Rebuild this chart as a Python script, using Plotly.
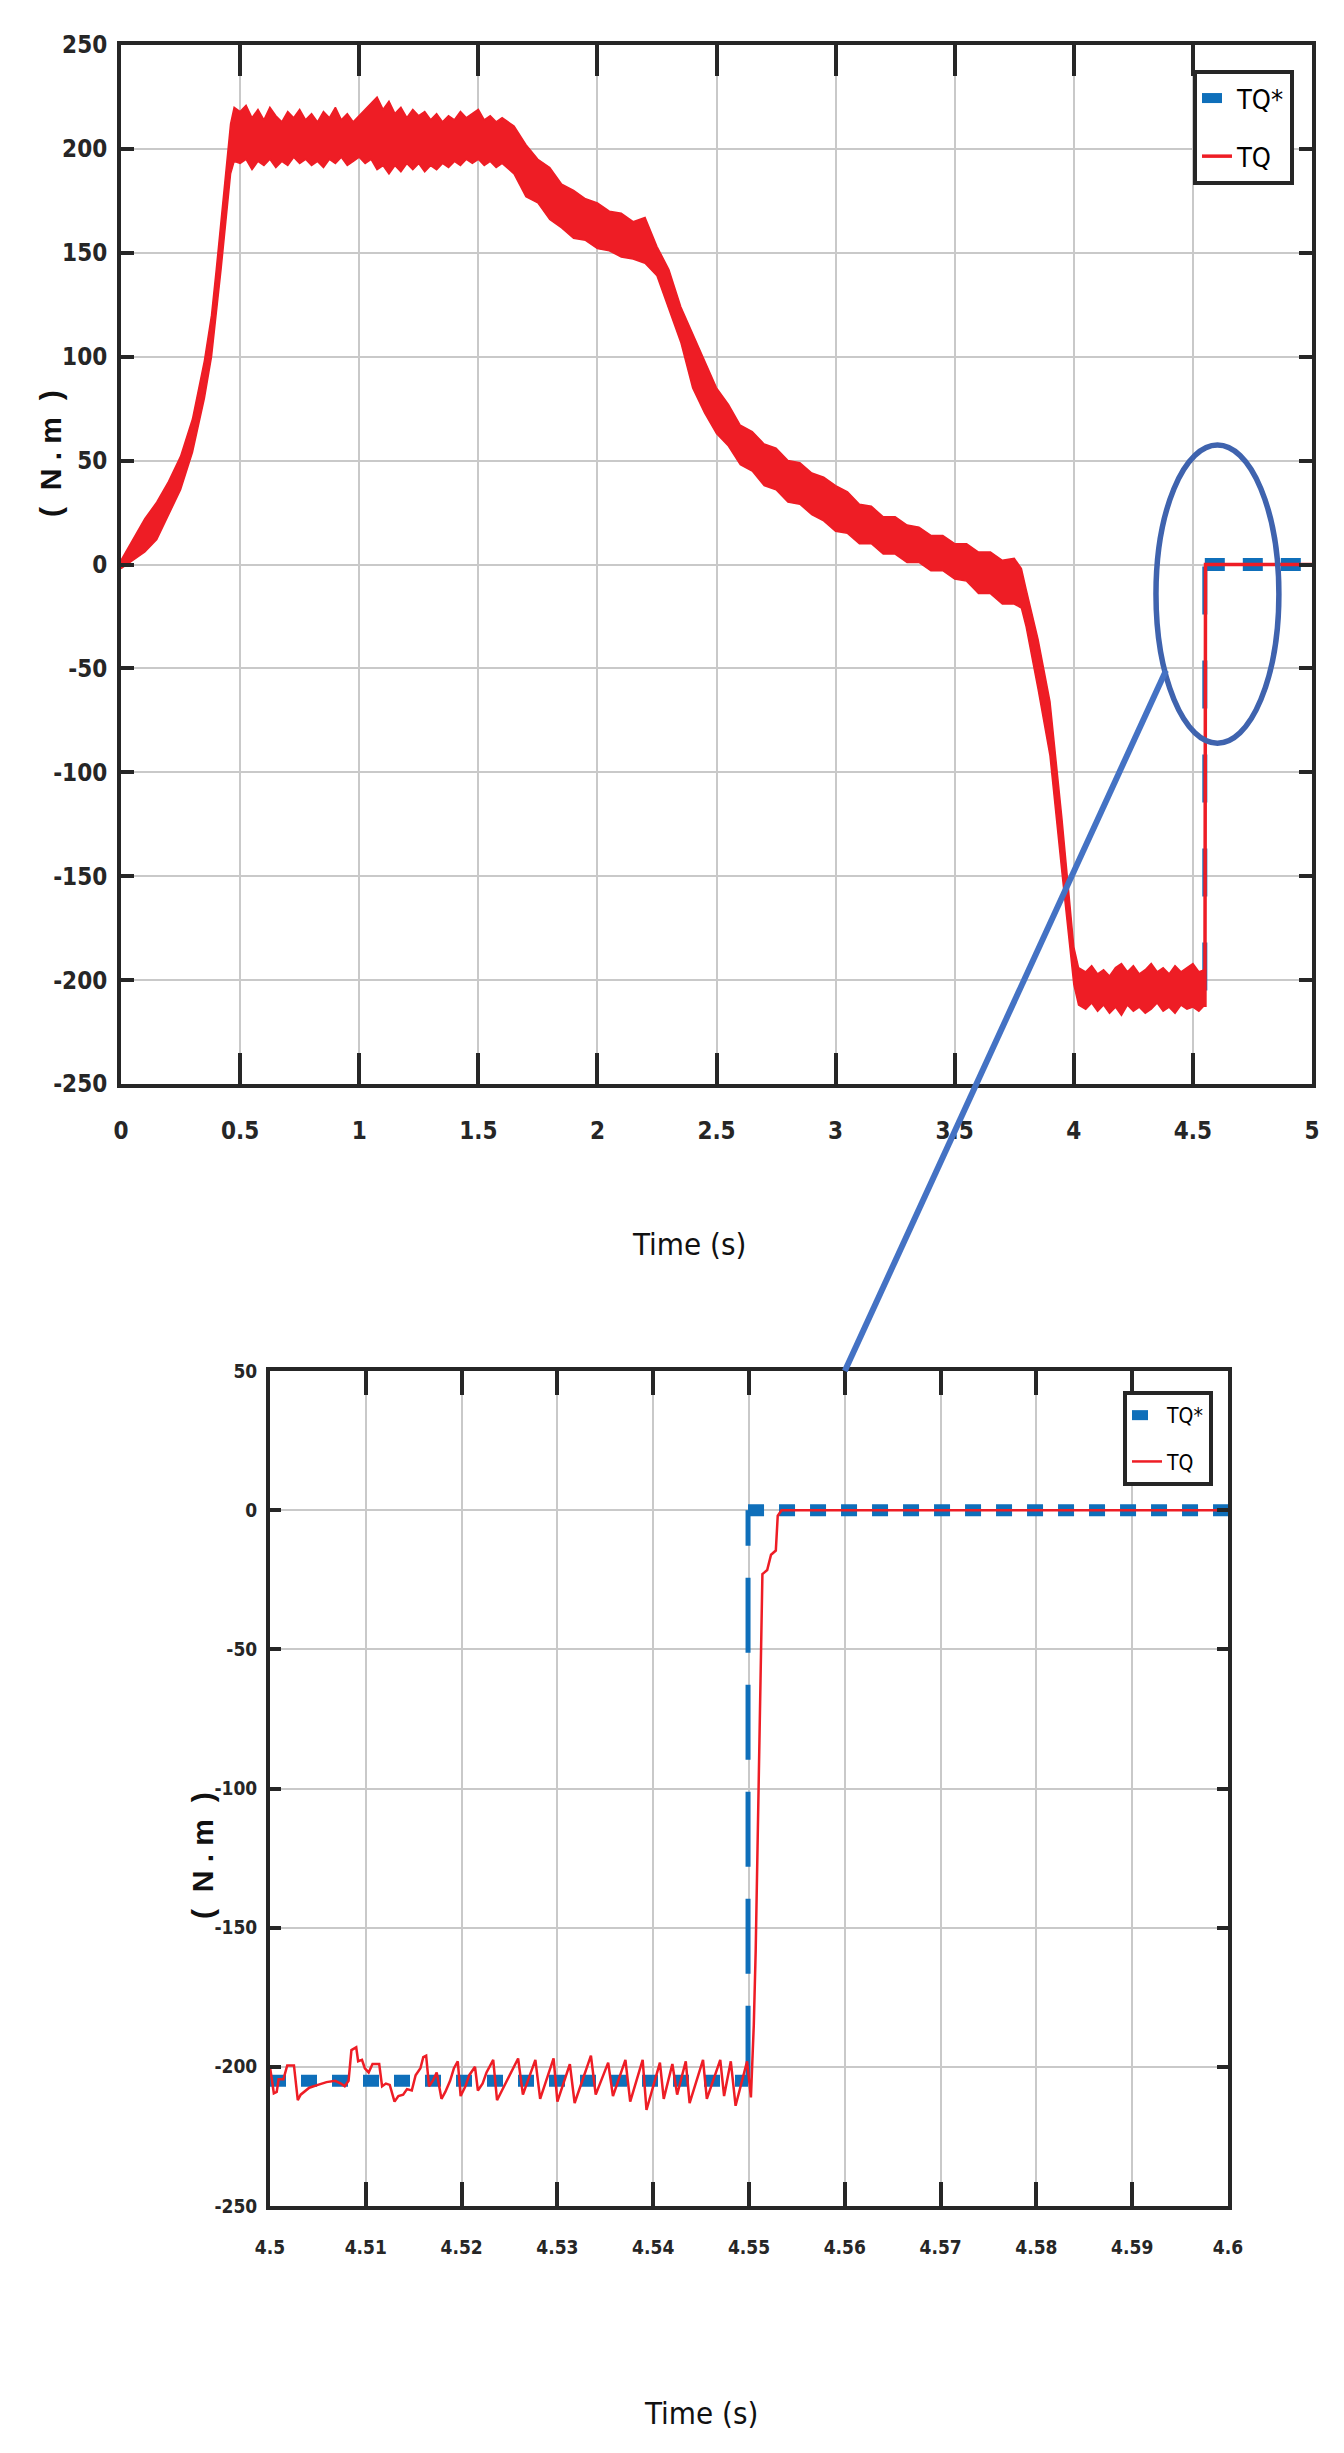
import plotly.graph_objects as go

W, H = 1344, 2453

# ---------------- data: full run (0 - 5 s) ----------------
t_band = [0.00, 0.05, 0.10, 0.15, 0.20, 0.25, 0.30, 0.35, 0.38, 0.40, 0.42, 0.44, 0.46, 0.475,
          0.500, 0.525, 0.550, 0.575, 0.600, 0.625, 0.650, 0.675, 0.700, 0.725, 0.750, 0.775,
          0.800, 0.825, 0.850, 0.875, 0.900, 0.925, 0.950, 0.975, 1.000, 1.025, 1.050, 1.075,
          1.100, 1.125, 1.150, 1.175, 1.200, 1.225, 1.250, 1.275, 1.300, 1.325, 1.350, 1.375,
          1.400, 1.425, 1.450, 1.475, 1.500, 1.525, 1.550, 1.575, 1.600,
          1.65, 1.70, 1.75, 1.80, 1.85, 1.90, 1.95, 2.00, 2.05, 2.10, 2.15, 2.20, 2.25, 2.30,
          2.35, 2.40, 2.45, 2.50, 2.55, 2.60, 2.65, 2.70, 2.75, 2.80, 2.85, 2.90, 2.95, 3.00,
          3.05, 3.10, 3.15, 3.20, 3.25, 3.30, 3.35, 3.40, 3.45, 3.50, 3.55, 3.60, 3.65, 3.70,
          3.75, 3.78, 3.80, 3.85, 3.90, 3.95, 4.00, 4.02,
          4.050, 4.075, 4.100, 4.125, 4.150, 4.175, 4.200, 4.225, 4.250, 4.275, 4.300, 4.325,
          4.350, 4.375, 4.400, 4.425, 4.450, 4.475, 4.500, 4.525, 4.550]
tq_upper = [2, 12, 22, 30, 40, 52, 70, 98, 120, 142, 165, 190, 212, 220,
            218, 221, 215, 219, 214, 220, 216, 213, 218, 215, 219, 214,
            217, 213, 218, 215, 220, 214, 217, 213, 216, 219, 222, 225,
            219, 223, 217, 220, 215, 219, 216, 218, 214, 217, 213, 216,
            214, 218, 215, 217, 219, 214, 216, 213, 215,
            211, 202, 195, 191, 183, 180, 176, 174, 170, 169, 165, 167, 153, 142,
            124, 111, 98, 85, 77, 67, 64, 58, 56, 50, 49, 44, 42, 38,
            35, 29, 28, 23, 23, 19, 18, 14, 14, 10, 10, 6, 6, 2,
            3, -2, -12, -36, -66, -122, -184, -194,
            -196, -193, -197, -195, -198, -194, -192, -196, -193, -197, -195, -192,
            -196, -194, -197, -193, -196, -194, -192, -196, -195]
tq_lower = [-2, 2, 6, 12, 24, 36, 54, 80, 100, 120, 142, 165, 188, 194,
            193, 195, 190, 194, 192, 195, 191, 194, 192, 196, 193, 195,
            192, 194, 191, 195, 193, 196, 192, 194, 196, 193, 195, 190,
            192, 188, 192, 189, 193, 190, 193, 189, 192, 190, 193, 191,
            194, 192, 195, 193, 195, 192, 194, 191, 193,
            188, 177, 174, 166, 162, 157, 156, 152, 151, 148, 147, 145, 139, 123,
            107, 85, 73, 63, 57, 48, 45, 38, 36, 30, 29, 24, 21, 16,
            15, 10, 10, 5, 5, 1, 1, -3, -3, -7, -8, -14, -14, -19,
            -19, -21, -30, -60, -92, -148, -202, -212,
            -214, -211, -215, -212, -216, -213, -217, -212, -215, -213, -216, -214,
            -211, -215, -213, -216, -212, -214, -213, -215, -212]

# measured torque after the step (main view)
t_meas_step = [4.5505, 4.5530, 5.0]
tq_meas_step = [-213, 0, 0]

# reference torque TQ* (main view)
t_ref = [0.00, 0.05, 0.10, 0.15, 0.20, 0.25, 0.30, 0.35, 0.38, 0.40, 0.42, 0.44, 0.46, 0.475,
         1.00, 1.60, 1.65, 1.70, 1.80, 1.90, 2.00, 2.10, 2.20, 2.25, 2.30, 2.35, 2.40, 2.45,
         2.50, 2.60, 2.70, 2.80, 2.90, 3.00, 3.10, 3.20, 3.30, 3.40, 3.50, 3.60, 3.70, 3.78,
         3.80, 3.85, 3.90, 3.95, 4.00, 4.02, 4.55]
tq_ref = [0, 7, 14, 21, 32, 44, 62, 89, 110, 131, 153, 177, 200, 207,
          205, 204, 199, 189, 178, 168, 163, 158, 156, 146, 132, 116, 98, 84,
          75, 58, 49, 41, 35, 27, 20, 15, 11, 6, 2, -3, -8, -11,
          -21, -48, -79, -135, -193, -204, -205]
t_ref_jump = [4.55, 4.55]
tq_ref_jump = [-205, 0]
t_ref_zero = [4.55, 5.0]
tq_ref_zero = [0, 0]

# ---------------- data: zoom 4.5 - 4.6 s ----------------
t_ref_z_low = [4.5, 4.5499]
tq_ref_z_low = [-205, -205]
t_ref_z_jump = [4.5499, 4.5499]
tq_ref_z_jump = [-205, 0]
t_ref_z_zero = [4.5499, 4.6]
tq_ref_z_zero = [0, 0]

t_meas_z = [4.5000, 4.5004, 4.5007, 4.5009, 4.5014, 4.5018, 4.5025, 4.5029, 4.5032, 4.5041,
            4.5050, 4.5059, 4.5068, 4.5074, 4.5078, 4.5082, 4.5085, 4.5090, 4.5092, 4.5096,
            4.5099, 4.5103, 4.5107, 4.5114, 4.5117, 4.5121, 4.5125, 4.5130, 4.5134, 4.5139,
            4.5143, 4.5148, 4.5152, 4.5157, 4.5160, 4.5163, 4.5166, 4.5170, 4.5174, 4.5179,
            4.5183, 4.5188, 4.5192, 4.5196, 4.5199, 4.5204, 4.5208, 4.5214, 4.5217, 4.5222,
            4.5226, 4.5233, 4.5237, 4.5259, 4.5264, 4.5277, 4.5282, 4.5296, 4.5300, 4.5313,
            4.5318, 4.5335, 4.5340, 4.5353, 4.5358, 4.5371, 4.5376, 4.5389, 4.5393, 4.5407,
            4.5411, 4.5420, 4.5425, 4.5434, 4.5438, 4.5452, 4.5456, 4.5470, 4.5474, 4.5481,
            4.5486, 4.5498, 4.5502, 4.5505, 4.5507, 4.5510, 4.5512, 4.5514, 4.5519, 4.5523,
            4.5528, 4.5530, 4.5534, 4.6000]
tq_meas_z = [-200.0, -209.5, -209.0, -204.5, -204.5, -199.5, -199.5, -212.0, -210.0, -207.5,
             -206.5, -205.5, -205.0, -206.0, -207.0, -205.0, -194.0, -193.0, -198.0, -197.5,
             -200.5, -202.0, -199.0, -199.0, -207.0, -206.0, -206.5, -212.5, -210.5, -210.0,
             -208.0, -208.5, -203.0, -200.5, -196.5, -196.0, -207.0, -205.0, -202.0, -211.5,
             -209.0, -205.0, -200.5, -198.0, -210.5, -207.0, -203.0, -200.0, -208.5, -206.0,
             -202.0, -197.5, -212.0, -197.0, -210.0, -197.5, -211.5, -197.0, -212.5, -199.0,
             -213.0, -196.0, -210.0, -198.5, -210.5, -197.5, -212.5, -197.5, -215.5, -198.5,
             -211.5, -199.0, -210.0, -198.0, -213.0, -197.5, -211.5, -197.5, -210.5, -198.0,
             -214.0, -198.0, -211.0, -185.0, -158.0, -103.0, -70.0, -23.0, -21.5, -16.0,
             -14.5, -2.0, 0.0, 0.0]

# ticks
x1_ticks = [0, 0.5, 1, 1.5, 2, 2.5, 3, 3.5, 4, 4.5, 5]
x1_labels = ["0", "0.5", "1", "1.5", "2", "2.5", "3", "3.5", "4", "4.5", "5"]
y1_ticks = [-250, -200, -150, -100, -50, 0, 50, 100, 150, 200, 250]
x2_ticks = [4.5, 4.51, 4.52, 4.53, 4.54, 4.55, 4.56, 4.57, 4.58, 4.59, 4.6]
x2_labels = ["4.5", "4.51", "4.52", "4.53", "4.54", "4.55", "4.56", "4.57", "4.58", "4.59", "4.6"]
y2_ticks = [-250, -200, -150, -100, -50, 0, 50]

# zoom marker (ellipse in main view) and link line endpoints
ell_t = [4.345, 4.861]
ell_v = [-86, 57.5]
link_main = (4.387, -51)
link_inset = (4.56, 50)

# ---------------- styling ----------------
BLUE = "#0F6FBA"
RED = "#EE1D25"
AX = "#262626"
GRID = "#C9C9C9"
NARROW = "Liberation Sans Narrow, DejaVu Sans Condensed, Arial Narrow, Liberation Sans, Arial, sans-serif"

X1_DOM = [113 / W, 1304 / W]
Y1_DOM = [1 - 1076 / H, 1 - 37 / H]
X2_DOM = [262 / W, 1220 / W]
Y2_DOM = [1 - 2198 / H, 1 - 1363 / H]
X1_RNG, Y1_RNG = [0, 5], [-250, 250]
X2_RNG, Y2_RNG = [4.5, 4.6], [-250, 50]

fig = go.Figure()

# main view
fig.add_trace(go.Scatter(x=t_ref, y=tq_ref, mode="lines", line=dict(color=BLUE, width=4),
                         legendgroup="ref", showlegend=False, hoverinfo="skip"))
fig.add_trace(go.Scatter(x=t_ref_jump, y=tq_ref_jump, mode="lines",
                         line=dict(color=BLUE, width=5, dash="48px,46px"),
                         legendgroup="ref", showlegend=False, hoverinfo="skip"))
fig.add_trace(go.Scatter(x=t_ref_zero, y=tq_ref_zero, mode="lines", name="TQ*",
                         line=dict(color=BLUE, width=13, dash="20px,18px"),
                         legendgroup="ref", legend="legend"))
fig.add_trace(go.Scatter(x=t_band, y=tq_upper, mode="lines", line=dict(color=RED, width=1.5),
                         legendgroup="meas", showlegend=False, hoverinfo="skip"))
fig.add_trace(go.Scatter(x=t_band, y=tq_lower, mode="lines", line=dict(color=RED, width=1.5),
                         fill="tonexty", fillcolor=RED,
                         legendgroup="meas", showlegend=False, hoverinfo="skip"))
fig.add_trace(go.Scatter(x=t_meas_step, y=tq_meas_step, mode="lines", name="TQ",
                         line=dict(color=RED, width=3.5), legendgroup="meas", legend="legend"))

# zoom view
fig.add_trace(go.Scatter(x=t_ref_z_low, y=tq_ref_z_low, mode="lines", xaxis="x2", yaxis="y2",
                         line=dict(color=BLUE, width=12, dash="16px,15px"),
                         legendgroup="ref2", showlegend=False, hoverinfo="skip"))
fig.add_trace(go.Scatter(x=t_ref_z_jump, y=tq_ref_z_jump, mode="lines", xaxis="x2", yaxis="y2",
                         line=dict(color=BLUE, width=5, dash="75px,32px"),
                         legendgroup="ref2", showlegend=False, hoverinfo="skip"))
fig.add_trace(go.Scatter(x=t_ref_z_zero, y=tq_ref_z_zero, mode="lines", xaxis="x2", yaxis="y2",
                         name="TQ*", line=dict(color=BLUE, width=12, dash="16px,15px"),
                         legendgroup="ref2", legend="legend2"))
fig.add_trace(go.Scatter(x=t_meas_z, y=tq_meas_z, mode="lines", xaxis="x2", yaxis="y2",
                         name="TQ", line=dict(color=RED, width=2.5),
                         legendgroup="meas2", legend="legend2"))


def axis(dom, rng, anchor, tickvals, ticktext, ticklen, fsize, standoff):
    return dict(domain=dom, range=rng, anchor=anchor, tickmode="array", tickvals=tickvals,
                ticktext=ticktext, ticks="inside", ticklen=ticklen, tickwidth=4, tickcolor=AX,
                showline=True, linewidth=4, linecolor=AX, mirror="ticks",
                showgrid=True, gridcolor=GRID, gridwidth=2, zeroline=False,
                tickfont=dict(family=NARROW, size=fsize, color=AX, weight="bold"),
                ticklabelstandoff=standoff, automargin=False, fixedrange=True)


def to_paper(t, v, xd, yd, xr, yr):
    return (xd[0] + (t - xr[0]) / (xr[1] - xr[0]) * (xd[1] - xd[0]),
            yd[0] + (v - yr[0]) / (yr[1] - yr[0]) * (yd[1] - yd[0]))


p0 = to_paper(link_main[0], link_main[1], X1_DOM, Y1_DOM, X1_RNG, Y1_RNG)
p1 = to_paper(link_inset[0], link_inset[1], X2_DOM, Y2_DOM, X2_RNG, Y2_RNG)

shapes = [
    dict(type="circle", xref="x", yref="y", x0=ell_t[0], x1=ell_t[1], y0=ell_v[0], y1=ell_v[1],
         line=dict(color="#3F63AE", width=5.5), layer="above"),
    dict(type="line", xref="paper", yref="paper", x0=p0[0], y0=p0[1], x1=p1[0], y1=p1[1],
         line=dict(color="#4472C4", width=6), layer="above"),
]

annotations = [
    dict(text="Time (s)", x=681 / W, y=1 - 1236 / H, xref="paper", yref="paper",
         showarrow=False, xanchor="center", yanchor="middle",
         font=dict(family=NARROW, size=31, color="#111111")),
    dict(text="Time (s)", x=693 / W, y=1 - 2405 / H, xref="paper", yref="paper",
         showarrow=False, xanchor="center", yanchor="middle",
         font=dict(family=NARROW, size=31, color="#111111")),
    dict(text="(  N . m  )", x=42 / W, y=1 - 446 / H, xref="paper", yref="paper",
         showarrow=False, xanchor="center", yanchor="middle", textangle=-90,
         font=dict(family="Liberation Sans, Arial, sans-serif", size=30, color="#111111",
                   weight="bold")),
    dict(text="(  N . m  )", x=194 / W, y=1 - 1847 / H, xref="paper", yref="paper",
         showarrow=False, xanchor="center", yanchor="middle", textangle=-90,
         font=dict(family="Liberation Sans, Arial, sans-serif", size=30, color="#111111",
                   weight="bold")),
]

fig.update_layout(
    width=W, height=H, margin=dict(l=0, r=0, t=0, b=0),
    paper_bgcolor="white", plot_bgcolor="white",
    xaxis=axis(X1_DOM, X1_RNG, "y", x1_ticks, x1_labels, 31, 24, 22),
    yaxis=axis(Y1_DOM, Y1_RNG, "x", y1_ticks, [str(v) for v in y1_ticks], 13, 24, 5),
    xaxis2=axis(X2_DOM, X2_RNG, "y2", x2_ticks, x2_labels, 24, 19, 21),
    yaxis2=axis(Y2_DOM, Y2_RNG, "x2", y2_ticks, [str(v) for v in y2_ticks], 11, 19, 5),
    legend=dict(x=1286 / W, y=1 - 62 / H, xanchor="right", yanchor="top",
                bordercolor=AX, borderwidth=4, bgcolor="white", traceorder="grouped",
                tracegroupgap=20, font=dict(family=NARROW, size=27, color="#000000")),
    legend2=dict(x=1205 / W, y=1 - 1383 / H, xanchor="right", yanchor="top",
                 bordercolor=AX, borderwidth=4, bgcolor="white", traceorder="grouped",
                 tracegroupgap=16, font=dict(family=NARROW, size=21, color="#000000")),
    shapes=shapes, annotations=annotations, showlegend=True,
)

fig.write_html("out.html")
